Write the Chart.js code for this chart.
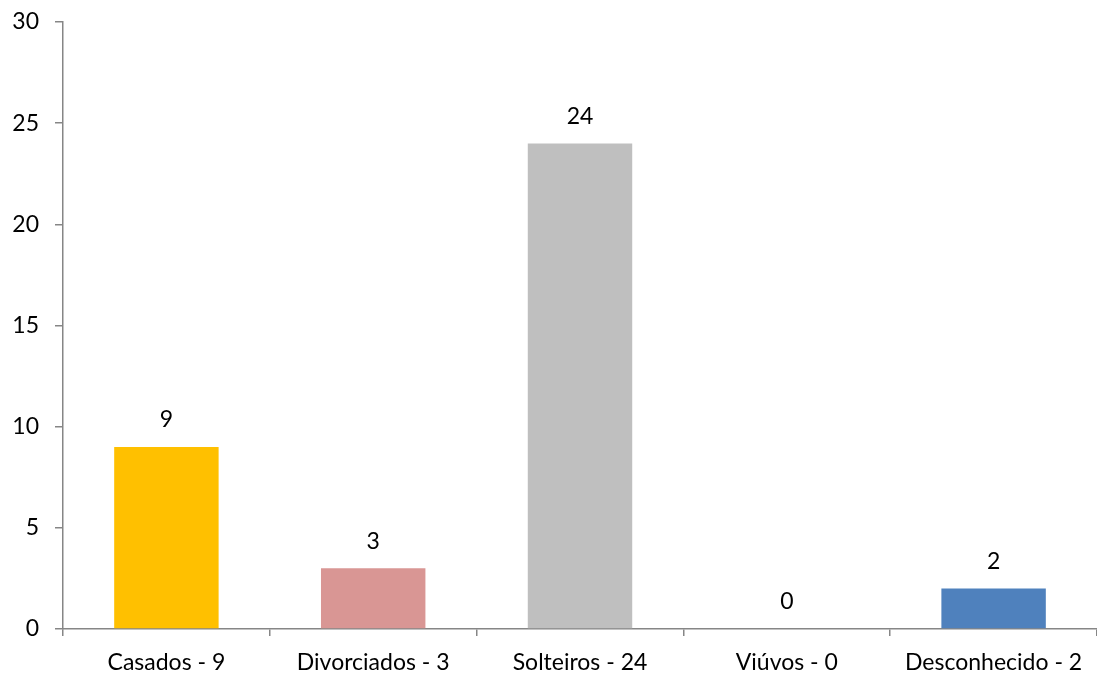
<!DOCTYPE html>
<html>
<head>
<meta charset="utf-8">
<script src="https://cdn.jsdelivr.net/npm/chart.js@4"></script>
<style>
  html, body { margin: 0; padding: 0; background: #fff; }
  #wrap { width: 1097px; height: 678px; }
</style>
</head>
<body>
<div id="wrap"><canvas id="estadoCivil"></canvas></div>
<script>
const categorias = ['Casados - 9', 'Divorciados - 3', 'Solteiros - 24', 'Viúvos - 0', 'Desconhecido - 2'];
const valores = [9, 3, 24, 0, 2];
const cores = ['#FFC000', '#D99694', '#BFBFBF', '#BFBFBF', '#4F81BD'];
const yTicks = [0, 5, 10, 15, 20, 25, 30];

const fonte = "Lato, 'Noto Sans', sans-serif";
const cinza = '#868686';

// rotulos de valor acima das barras
const rotulos = {
    id: 'rotulos',
    afterDatasetsDraw(chart) {
        const ctx = chart.ctx;
        const meta = chart.getDatasetMeta(0);
        ctx.save();
        ctx.font = '23px ' + fonte;
        ctx.fillStyle = '#000';
        ctx.textAlign = 'center';
        ctx.textBaseline = 'middle';
        meta.data.forEach((bar, i) => {
            ctx.fillText(String(valores[i]), bar.x, bar.y - 27);
        });
        ctx.restore();
    }
};

const ctx = document.getElementById('estadoCivil').getContext('2d');
window.estadoCivil = new Chart(ctx, {
    type: 'bar',
    data: {
        labels: categorias,
        datasets: [{
            data: valores,
            backgroundColor: cores,
            borderWidth: 0,
            categoryPercentage: 1.0,
            barPercentage: 0.505
        }]
    },
    options: {
        responsive: true,
        maintainAspectRatio: false,
        animation: false,
        layout: { padding: { top: 22, right: 0, left: 0, bottom: 0 } },
        plugins: { legend: { display: false }, tooltip: { enabled: false } },
        scales: {
            x: {
                offset: true,
                grid: { offset: true, drawOnChartArea: false, color: cinza, tickLength: 7, lineWidth: 1.5 },
                border: { color: cinza, width: 1.5 },
                ticks: { color: '#000', font: { family: fonte, size: 23 }, padding: 13 },
                afterFit(scale) { scale.height = 49; }
            },
            y: {
                min: 0,
                max: 30,
                afterBuildTicks(scale) { scale.ticks = yTicks.map(v => ({ value: v })); },
                grid: { drawOnChartArea: false, color: cinza, tickLength: 8, lineWidth: 1.5 },
                border: { color: cinza, width: 1.5 },
                ticks: { color: '#000', font: { family: fonte, size: 23 }, padding: 16 },
                afterFit(scale) {
                    scale.width = 63;
                    scale.paddingTop = 0;
                    scale.paddingBottom = 0;
                }
            }
        }
    },
    plugins: [rotulos]
});
</script>
</body>
</html>
